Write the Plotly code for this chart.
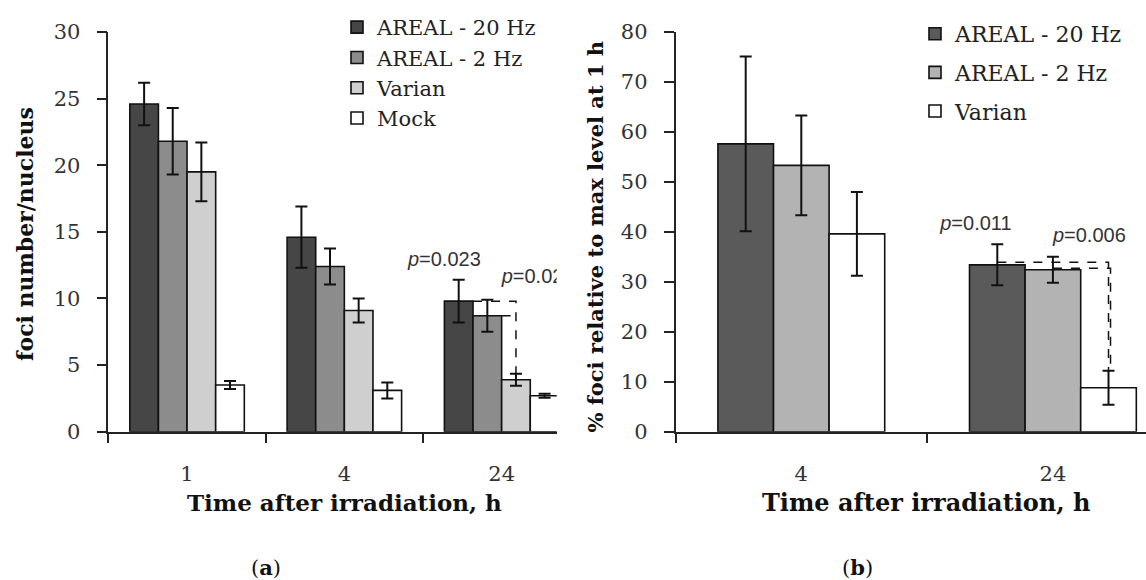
import plotly.graph_objects as go

# ---------------- data ----------------
# Panel (a): foci number per nucleus
cats_a = ["1", "4", "24"]
series_a = ["AREAL - 20 Hz", "AREAL - 2 Hz", "Varian", "Mock"]
areal20_a = [24.6, 14.6, 9.8]
areal20_a_err = [1.6, 2.3, 1.6]
areal2_a = [21.8, 12.4, 8.7]
areal2_a_err = [2.5, 1.35, 1.2]
varian_a = [19.5, 9.1, 3.9]
varian_a_err = [2.2, 0.9, 0.45]
mock_a = [3.5, 3.1, 2.7]
mock_a_err = [0.3, 0.6, 0.15]
pvals_a = ["<i>p</i>=0.023", "<i>p</i>=0.020"]

# Panel (b): % foci relative to max level at 1 h
cats_b = ["4", "24"]
series_b = ["AREAL - 20 Hz", "AREAL - 2 Hz", "Varian"]
areal20_b = [57.6, 33.4]
areal20_b_err = [17.5, 4.1]
areal2_b = [53.3, 32.4]
areal2_b_err = [10.0, 2.6]
varian_b = [39.6, 8.8]
varian_b_err = [8.4, 3.4]
pvals_b = ["<i>p</i>=0.011", "<i>p</i>=0.006"]

# ---------------- style ----------------
SERIF = "DejaVu Serif"
SANS = "Liberation Sans"
colors_a = ["#464646", "#8c8c8c", "#cfcfcf", "#ffffff"]
colors_b = ["#5a5a5a", "#b3b3b3", "#ffffff"]
W_A = 0.182   # bar width in category units, panel a
W_B = 0.221   # bar width in category units, panel b

fig = go.Figure()

vals_a = [areal20_a, areal2_a, varian_a, mock_a]
errs_a = [areal20_a_err, areal2_a_err, varian_a_err, mock_a_err]
xa = list(range(len(cats_a)))
n_a = len(series_a)
for k, (name, v, e, c) in enumerate(zip(series_a, vals_a, errs_a, colors_a)):
    fig.add_trace(go.Bar(
        x=xa, y=v, name=name, width=W_A, offset=(k - n_a / 2) * W_A,
        marker=dict(color=c, line=dict(color="#111111", width=1.6)),
        error_y=dict(type="data", array=e, color="#111111", thickness=2, width=6),
        xaxis="x", yaxis="y", legend="legend", legendgroup="a%d" % k,
    ))

vals_b = [areal20_b, areal2_b, varian_b]
errs_b = [areal20_b_err, areal2_b_err, varian_b_err]
xb = list(range(len(cats_b)))
n_b = len(series_b)
for k, (name, v, e, c) in enumerate(zip(series_b, vals_b, errs_b, colors_b)):
    fig.add_trace(go.Bar(
        x=xb, y=v, name=name, width=W_B, offset=(k - n_b / 2) * W_B,
        marker=dict(color=c, line=dict(color="#111111", width=1.6)),
        error_y=dict(type="data", array=e, color="#111111", thickness=2, width=6),
        xaxis="x2", yaxis="y2", legend="legend2", legendgroup="b%d" % k,
    ))


def center(g, k, n, w):
    return g + (k - (n - 1) / 2) * w


dash = dict(color="#111111", width=1.5, dash="dash")

# ---- significance brackets, panel a (24 h group) ----
g = 2
xv = center(g, 2, n_a, W_A)
ytop_var = varian_a[g] + varian_a_err[g]
fig.add_trace(go.Scatter(
    x=[center(g, 0, n_a, W_A) + W_A / 2, xv, xv],
    y=[areal20_a[g], areal20_a[g], ytop_var],
    mode="lines", line=dash, showlegend=False, hoverinfo="skip",
    xaxis="x", yaxis="y"))
fig.add_trace(go.Scatter(
    x=[center(g, 1, n_a, W_A) + W_A / 2, xv],
    y=[areal2_a[g], areal2_a[g]],
    mode="lines", line=dash, showlegend=False, hoverinfo="skip",
    xaxis="x", yaxis="y"))
fig.add_trace(go.Scatter(
    x=[center(g, 0, n_a, W_A) - W_A / 2, center(g, 1, n_a, W_A) + W_A / 2],
    y=[areal20_a[g] + areal20_a_err[g] + 1.4, areal2_a[g] + areal2_a_err[g] + 1.6],
    mode="text", text=pvals_a, textposition=["middle center", "middle right"],
    textfont=dict(family=SANS, size=20, color="#333333"),
    cliponaxis=True, showlegend=False, hoverinfo="skip",
    xaxis="x", yaxis="y"))

# ---- significance brackets, panel b (24 h group) ----
g = 1
xv = center(g, 2, n_b, W_B)
ytop_var = varian_b[g] + varian_b_err[g]
fig.add_trace(go.Scatter(
    x=[center(g, 0, n_b, W_B), xv, xv],
    y=[areal20_b[g] + 0.5, areal20_b[g] + 0.5, ytop_var],
    mode="lines", line=dash, showlegend=False, hoverinfo="skip",
    xaxis="x2", yaxis="y2"))
fig.add_trace(go.Scatter(
    x=[center(g, 1, n_b, W_B), xv + 0.008, xv + 0.008],
    y=[areal2_b[g] + 0.3, areal2_b[g] + 0.3, ytop_var],
    mode="lines", line=dash, showlegend=False, hoverinfo="skip",
    xaxis="x2", yaxis="y2"))
fig.add_trace(go.Scatter(
    x=[center(g, 0, n_b, W_B) - 0.085, center(g, 1, n_b, W_B)],
    y=[areal20_b[g] + areal20_b_err[g] + 3.8, areal2_b[g] + areal2_b_err[g] + 4.0],
    mode="text", text=pvals_b, textposition=["middle center", "middle right"],
    textfont=dict(family=SANS, size=20, color="#333333"),
    cliponaxis=True, showlegend=False, hoverinfo="skip",
    xaxis="x2", yaxis="y2"))

# ---------------- layout ----------------
W, H = 1146, 580
ybot = (H - 431.7) / H
ytop = (H - 32) / H
axis_common = dict(showgrid=False, zeroline=False, showline=True,
                   linecolor="#222222", linewidth=1.5, automargin=False)
tickfont = dict(family=SERIF, size=21, color="#333333")

fig.update_layout(
    width=W, height=H,
    margin=dict(l=0, r=0, t=0, b=0, autoexpand=False),
    paper_bgcolor="white", plot_bgcolor="white",
    barmode="overlay",
    showlegend=True,
    xaxis=dict(domain=[108.4 / W, 556.7 / W], range=[-0.5, 2.35],
               tickmode="array", tickvals=xa, ticktext=cats_a, ticks="",
               tickfont=tickfont, ticklabelstandoff=22,
               minor=dict(tickmode="array", tickvals=[-0.5, 0.5, 1.5, 2.5],
                          ticks="outside", ticklen=10, tickcolor="#222222",
                          tickwidth=1.5),
               anchor="y", **axis_common),
    yaxis=dict(domain=[ybot, ytop], range=[0, 30], tickmode="array",
               tickvals=[0, 5, 10, 15, 20, 25, 30],
               ticks="outside", ticklen=10, tickcolor="#222222", tickwidth=1.5,
               tickfont=tickfont, ticklabelstandoff=12,
               anchor="x", **axis_common),
    xaxis2=dict(domain=[675.5 / W, 1.0], range=[-0.5, 1.37],
                tickmode="array", tickvals=xb, ticktext=cats_b, ticks="",
                tickfont=tickfont, ticklabelstandoff=22,
                minor=dict(tickmode="array", tickvals=[-0.5, 0.5, 1.5],
                           ticks="outside", ticklen=10, tickcolor="#222222",
                           tickwidth=1.5),
                anchor="y2", **axis_common),
    yaxis2=dict(domain=[ybot, ytop], range=[0, 80], tickmode="array",
                tickvals=[0, 10, 20, 30, 40, 50, 60, 70, 80],
                ticks="outside", ticklen=10, tickcolor="#222222", tickwidth=1.5,
                tickfont=tickfont, ticklabelstandoff=12,
                anchor="x2", **axis_common),
    legend=dict(x=337 / W, y=1 - 7 / H, xanchor="left", yanchor="top",
                font=dict(family=SERIF, size=21, color="#222222"),
                traceorder="grouped", tracegroupgap=0,
                bgcolor="rgba(0,0,0,0)", itemwidth=30),
    legend2=dict(x=915 / W, y=1 - 13 / H, xanchor="left", yanchor="top",
                 font=dict(family=SERIF, size=22, color="#222222"),
                 traceorder="grouped", tracegroupgap=7,
                 bgcolor="rgba(0,0,0,0)", itemwidth=30),
)

ann_font = dict(family=SERIF, size=22, color="#111111")
fig.add_annotation(text="<b>foci number/nucleus</b>", x=25 / W, y=(H - 234) / H,
                   xref="paper", yref="paper", textangle=-90, showarrow=False,
                   font=ann_font, xanchor="center", yanchor="middle")
fig.add_annotation(text="<b>% foci relative to max level at 1 h</b>", x=595 / W,
                   y=(H - 236.5) / H, xref="paper", yref="paper", textangle=-90,
                   showarrow=False, font=dict(family=SERIF, size=21, color="#111111"),
                   xanchor="center", yanchor="middle")
fig.add_annotation(text="<b>Time after irradiation, h</b>", x=344 / W, y=(H - 502) / H,
                   xref="paper", yref="paper", showarrow=False,
                   font=dict(family=SERIF, size=23, color="#111111"),
                   xanchor="center", yanchor="middle")
fig.add_annotation(text="<b>Time after irradiation, h</b>", x=926 / W, y=(H - 502) / H,
                   xref="paper", yref="paper", showarrow=False,
                   font=dict(family=SERIF, size=24, color="#111111"),
                   xanchor="center", yanchor="middle")
fig.add_annotation(text="(<b>a</b>)", x=266 / W, y=(H - 567) / H,
                   xref="paper", yref="paper", showarrow=False,
                   font=dict(family=SERIF, size=21, color="#111111"),
                   xanchor="center", yanchor="middle")
fig.add_annotation(text="(<b>b</b>)", x=857 / W, y=(H - 567) / H,
                   xref="paper", yref="paper", showarrow=False,
                   font=dict(family=SERIF, size=21, color="#111111"),
                   xanchor="center", yanchor="middle")

fig.write_html("out.html",
               config={"displayModeBar": False},
               post_script="document.body.style.margin='0';"
                           "document.body.style.overflow='hidden';")
